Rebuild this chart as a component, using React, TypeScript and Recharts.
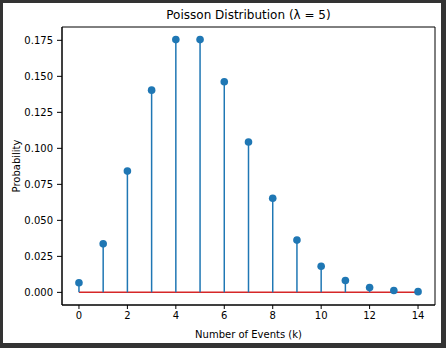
import {
  ComposedChart,
  Scatter,
  ErrorBar,
  XAxis,
  YAxis,
  ReferenceLine,
  ReferenceArea,
} from "recharts";

// Poisson pmf for lambda = 5, k = 0..14
const ks = [0, 1, 2, 3, 4, 5, 6, 7, 8, 9, 10, 11, 12, 13, 14];
const probs = [
  0.0067, 0.0337, 0.0842, 0.1404, 0.1755, 0.1755, 0.1462, 0.1044, 0.0653,
  0.0363, 0.0181, 0.0082, 0.0034, 0.0013, 0.0005,
];
const xTicks = [0, 2, 4, 6, 8, 10, 12, 14];
const yTicks = [0, 0.025, 0.05, 0.075, 0.1, 0.125, 0.15, 0.175];

const BLUE = "#1f77b4";
const RED = "#d62728";
const FONT = "'DejaVu Sans', sans-serif";

const data = ks.map((k, i) => ({ k, p: probs[i], stem: [probs[i], 0] }));

const X_DOMAIN: [number, number] = [-0.7, 14.7];
const Y_DOMAIN: [number, number] = [-0.00877, 0.18425];

const Dot = (props: any) => (
  <circle cx={props.cx} cy={props.cy} r={3.8} fill={BLUE} />
);

export default function App() {
  return (
    <div
      style={{
        position: "fixed",
        left: 0,
        top: 0,
        width: 446,
        height: 348,
        background: "#333",
      }}
    >
      <div
        style={{
          position: "absolute",
          left: 3,
          top: 3,
          width: 438,
          height: 340,
          background: "#fff",
        }}
      />
      <div
        style={{
          position: "absolute",
          left: 62,
          width: 373,
          top: 8,
          textAlign: "center",
          fontFamily: FONT,
          fontSize: 12,
          color: "#000",
        }}
      >
        Poisson Distribution (λ = 5)
      </div>
      <div style={{ position: "absolute", left: 0, top: 0 }}>
        <ComposedChart
          width={446}
          height={348}
          data={data}
          margin={{ top: 27, right: 11, bottom: 0, left: 0 }}
        >
          <XAxis
            dataKey="k"
            type="number"
            domain={X_DOMAIN}
            allowDataOverflow
            ticks={xTicks}
            interval={0}
            height={43}
            axisLine={{ stroke: "#000", strokeWidth: 1 }}
            tickLine={{ stroke: "#000" }}
            tickSize={4}
            tickMargin={3}
            tick={{ fill: "#000", fontSize: 10, fontFamily: FONT }}
            label={{
              value: "Number of Events (k)",
              position: "insideBottom",
              offset: 10,
              fill: "#000",
              fontSize: 10,
              fontFamily: FONT,
            }}
          />
          <YAxis
            dataKey="p"
            type="number"
            domain={Y_DOMAIN}
            allowDataOverflow
            ticks={yTicks}
            interval={0}
            width={62}
            axisLine={{ stroke: "#000", strokeWidth: 1 }}
            tickLine={{ stroke: "#000" }}
            tickSize={5}
            tickMargin={4}
            tickFormatter={(v: number) => v.toFixed(3)}
            tick={{ fill: "#000", fontSize: 10, fontFamily: FONT }}
            label={{
              content: (props: any) => {
                const vb = props.viewBox || { x: 0, y: 27, width: 62, height: 278 };
                const cy = vb.y + vb.height / 2;
                return (
                  <text
                    x={16}
                    y={cy}
                    transform={`rotate(-90 16 ${cy})`}
                    textAnchor="middle"
                    dominantBaseline="central"
                    fill="#000"
                    fontSize={10}
                    fontFamily={FONT}
                  >
                    Probability
                  </text>
                );
              },
            }}
          />
          <ReferenceArea
            x1={X_DOMAIN[0]}
            x2={X_DOMAIN[1]}
            y1={Y_DOMAIN[0]}
            y2={Y_DOMAIN[1]}
            fill="none"
            stroke="#000"
            strokeWidth={1}
          />
          <ReferenceLine
            segment={[
              { x: 0, y: 0 },
              { x: 14, y: 0 },
            ]}
            stroke={RED}
            strokeWidth={1.5}
          />
          <Scatter dataKey="p" shape={Dot} isAnimationActive={false}>
            <ErrorBar
              dataKey="stem"
              direction="y"
              width={0}
              stroke={BLUE}
              strokeWidth={1.5}
              isAnimationActive={false}
            />
          </Scatter>
        </ComposedChart>
      </div>
    </div>
  );
}
